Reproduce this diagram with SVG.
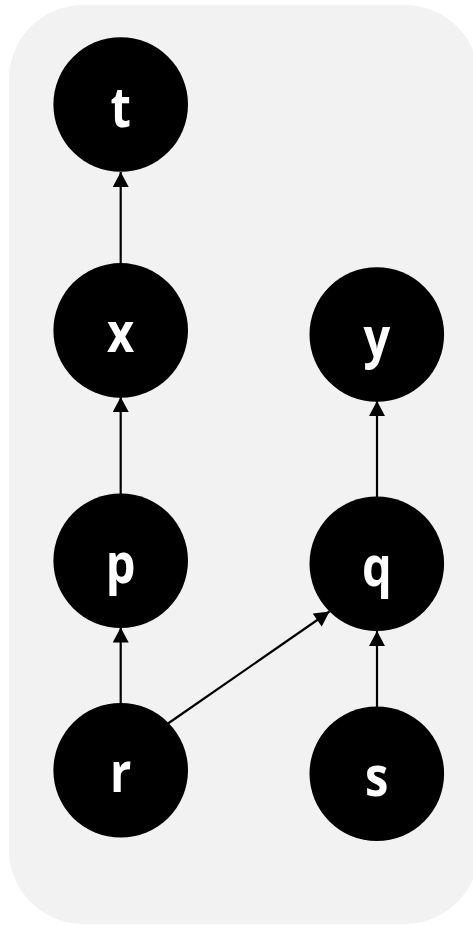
<svg xmlns="http://www.w3.org/2000/svg" width="473" height="925" viewBox="0 0 473 925">
<style>
.bg{fill:#f2f2f2}
.n circle{fill:#000}
.n text{fill:#fff;font-family:"Open Sans","DejaVu Sans",sans-serif;font-weight:bold;font-size:56px;text-anchor:middle}
.e line{stroke:#000;stroke-width:2.2;fill:none;marker-end:url(#ah)}
</style>
<defs>
<marker id="ah" markerUnits="userSpaceOnUse" markerWidth="16" markerHeight="16" viewBox="0 0 15 16" refX="15" refY="8" orient="auto">
<path d="M0,0 L15,8 L0,16 Z" fill="#000"/>
</marker>
</defs>
<rect class="bg" x="9" y="5" width="470" height="919" rx="74" ry="74"/>
<g id="connectors" class="e">
<line x1="120.7" y1="264" x2="120.7" y2="172"/>
<line x1="120.7" y1="494" x2="120.7" y2="397"/>
<line x1="377" y1="497" x2="377" y2="401"/>
<line x1="120.7" y1="704" x2="120.7" y2="627.5"/>
<line x1="377" y1="707" x2="377" y2="631"/>
<line x1="168" y1="723.5" x2="329.5" y2="611.5"/>
</g>
<g id="t" class="n"><circle cx="120.7" cy="104.5" r="67.3"/><text transform="translate(120.7 126.5) scale(0.84 1)">t</text></g>
<g id="x" class="n"><circle cx="120.7" cy="330.4" r="67.3"/><text transform="translate(120.7 352.3) scale(0.84 1)">x</text></g>
<g id="y" class="n"><circle cx="376.8" cy="334.5" r="67.3"/><text transform="translate(376.8 356.5) scale(0.84 1)">y</text></g>
<g id="p" class="n"><circle cx="120.7" cy="560.7" r="67.3"/><text transform="translate(120.7 582.5) scale(0.84 1)">p</text></g>
<g id="q" class="n"><circle cx="376.8" cy="563.7" r="67.3"/><text transform="translate(376.8 585.5) scale(0.84 1)">q</text></g>
<g id="r" class="n"><circle cx="120.7" cy="770.3" r="67.3"/><text transform="translate(120.7 792.3) scale(0.84 1)">r</text></g>
<g id="s" class="n"><circle cx="376.8" cy="773.7" r="67.3"/><text transform="translate(376.8 795.7) scale(0.84 1)">s</text></g>
</svg>
